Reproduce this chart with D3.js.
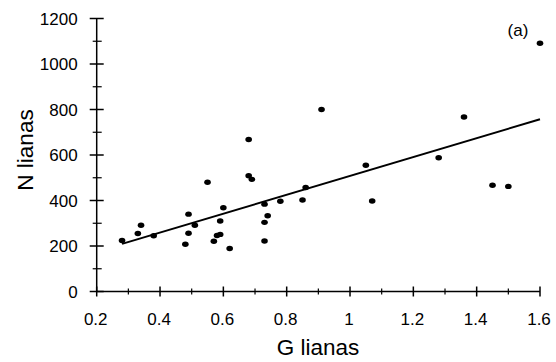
<!DOCTYPE html>
<html><head><meta charset="utf-8">
<script src="https://cdn.jsdelivr.net/npm/d3@7"></script>
<style>body{margin:0;background:#fff}svg{display:block}text{font-family:Arial,"Liberation Sans",sans-serif;fill:#000}</style>
</head><body><svg id="c" width="556" height="362"></svg>
<script>
const gValues = [0.28,0.33,0.34,0.38,0.48,0.49,0.49,0.51,0.55,0.57,0.58,0.59,0.59,0.60,0.62,0.68,0.68,0.69,0.73,0.73,0.73,0.74,0.78,0.85,0.86,0.91,1.05,1.07,1.28,1.36,1.45,1.50,1.60];
const nValues = [224,255,291,245,208,340,256,291,480,221,246,251,310,368,189,668,509,493,384,304,222,333,397,402,457,800,555,398,588,767,467,462,1091];
const xTicks = [0.2,0.4,0.6,0.8,1,1.2,1.4,1.6];
const yTicks = [0,200,400,600,800,1000,1200];
const fitX = [0.28,1.60];
const fitIntercept = 93, fitSlope = 415;

const svg = d3.select("#c");
const x = d3.scaleLinear().domain([0.2,1.6]).range([96.7,540]);
const y = d3.scaleLinear().domain([0,1200]).range([291.5,18.5]);

const g = svg.append("g");
g.append("line").attr("x1",x(0.2)).attr("x2",x(1.6)).attr("y1",y(0)).attr("y2",y(0)).attr("stroke","#000").attr("stroke-width",1.5);
g.append("line").attr("x1",x(0.2)).attr("x2",x(0.2)).attr("y1",y(0)).attr("y2",y(1200)).attr("stroke","#000").attr("stroke-width",1.5);

const xMinor = d3.range(0.3,1.6,0.2);
g.selectAll(".xmaj").data(xTicks).enter().append("line").attr("x1",d=>x(d)).attr("x2",d=>x(d)).attr("y1",y(0)-5).attr("y2",y(0)+5).attr("stroke","#000").attr("stroke-width",1.5);
g.selectAll(".xmin").data(xMinor).enter().append("line").attr("x1",d=>x(d)).attr("x2",d=>x(d)).attr("y1",y(0)-3).attr("y2",y(0)+3).attr("stroke","#000").attr("stroke-width",1.2);
g.selectAll(".xl").data(xTicks).enter().append("text").attr("x",d=>x(d)-1).attr("y",y(0)+33.5).attr("text-anchor","middle").attr("font-size",17).text(d=>String(d));

const yMinor = d3.range(100,1200,200);
g.selectAll(".ymaj").data(yTicks).enter().append("line").attr("x1",x(0.2)-7).attr("x2",x(0.2)+7).attr("y1",d=>y(d)).attr("y2",d=>y(d)).attr("stroke","#000").attr("stroke-width",1.5);
g.selectAll(".ymin").data(yMinor).enter().append("line").attr("x1",x(0.2)-4).attr("x2",x(0.2)+5).attr("y1",d=>y(d)).attr("y2",d=>y(d)).attr("stroke","#000").attr("stroke-width",1.2);
g.selectAll(".yl").data(yTicks).enter().append("text").attr("x",x(0.2)-19).attr("y",d=>y(d)+6).attr("text-anchor","end").attr("font-size",17).text(d=>String(d));

svg.append("text").attr("x",318).attr("y",355).attr("text-anchor","middle").attr("font-size",22.5).text("G lianas");
svg.append("text").attr("transform","translate(33,150) rotate(-90)").attr("text-anchor","middle").attr("font-size",22.5).text("N lianas");
svg.append("text").attr("x",518).attr("y",36).attr("text-anchor","middle").attr("font-size",17).text("(a)");

g.append("line").attr("x1",x(fitX[0])).attr("x2",x(fitX[1]))
 .attr("y1",y(fitIntercept+fitSlope*fitX[0])).attr("y2",y(fitIntercept+fitSlope*fitX[1]))
 .attr("stroke","#000").attr("stroke-width",2);

g.selectAll(".pt").data(gValues.map((v,i)=>[v,nValues[i]])).enter().append("ellipse")
 .attr("cx",d=>x(d[0])).attr("cy",d=>y(d[1])).attr("rx",3.3).attr("ry",2.7).attr("fill","#000");
</script></body></html>
